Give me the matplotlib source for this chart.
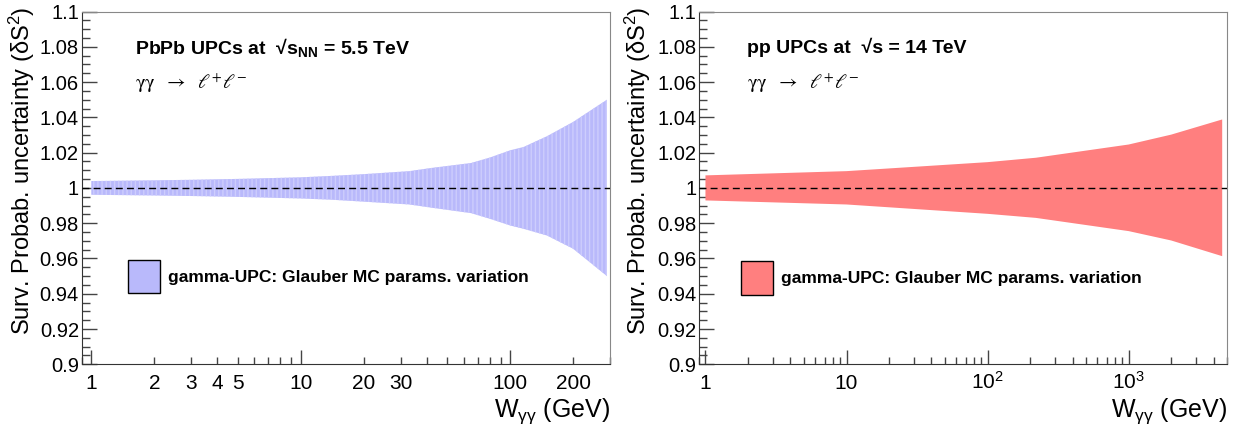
import matplotlib
matplotlib.use('Agg')
import matplotlib.pyplot as plt
from matplotlib.patches import Patch
from matplotlib.ticker import FixedLocator, FixedFormatter, LogLocator, NullFormatter, MultipleLocator, FormatStrFormatter, FuncFormatter

plt.rcParams['font.family'] = ['Liberation Sans', 'DejaVu Sans']
plt.rcParams['mathtext.fontset'] = 'custom'
plt.rcParams['mathtext.rm'] = 'Liberation Sans'
plt.rcParams['mathtext.bf'] = 'Liberation Sans:bold'
plt.rcParams['mathtext.it'] = 'Liberation Sans:italic'
plt.rcParams['hatch.linewidth'] = 1.0

# PbPb band (W in GeV, upper / lower edge)
w_pbpb = [1, 2, 3, 5, 10, 14, 20, 33, 42, 65, 80, 100, 116, 150, 200, 290]
up_pbpb = [1.0039, 1.0043, 1.0046, 1.0051, 1.0060, 1.0068, 1.0078, 1.0095, 1.0113,
           1.0141, 1.0172, 1.0213, 1.0232, 1.0293, 1.0374, 1.0500]
lo_pbpb = [0.9961, 0.9957, 0.9954, 0.9949, 0.9940, 0.9933, 0.9922, 0.9906, 0.9888,
           0.9857, 0.9825, 0.9787, 0.9768, 0.9730, 0.9655, 0.9500]

# pp band
w_pp = [1, 10, 100, 220, 1000, 2000, 4600]
up_pp = [1.0071, 1.0095, 1.0146, 1.0171, 1.0246, 1.0302, 1.0388]
lo_pp = [0.9929, 0.9906, 0.9853, 0.9830, 0.9755, 0.9702, 0.9613]

pbpb_ticks = [1, 2, 3, 4, 5, 10, 20, 30, 100, 200]
pp_ticks = [1, 10, 100, 1000]
pp_ticklabels = ['1', '10', '$10^{2}$', '$10^{3}$']

ylab = 'Surv. Probab. uncertainty (δS$^{2}$)'
xlab = 'W$_{\\mathrm{γγ}}$ (GeV)'
proc = r'$\mathrm{γγ}\ \ \rightarrow\ \ \ell^{+}\ell^{-}$'
leg_text = 'gamma-UPC: Glauber MC params. variation'

fig = plt.figure(figsize=(12.44, 4.33), dpi=100)
W, H = 1244, 433


def setup(ax, xlim):
    ax.set_xscale('log')
    ax.set_xlim(*xlim)
    ax.set_ylim(0.9, 1.1)
    ax.yaxis.set_major_locator(MultipleLocator(0.02))
    ax.yaxis.set_minor_locator(MultipleLocator(0.005))
    ax.yaxis.set_major_formatter(FormatStrFormatter('%g'))
    ax.tick_params(axis='y', which='major', direction='in', length=11, width=1,
                   labelsize=14.5, pad=2, color='#444444', right=False)
    ax.tick_params(axis='y', which='minor', direction='in', length=5.5, width=1,
                   color='#444444', right=False)
    ax.tick_params(axis='x', which='both', labelsize=15, pad=17.5, top=False)
    ax.tick_params(axis='x', which='major', direction='in', length=10, width=1, color='#444444')
    ax.tick_params(axis='x', which='minor', direction='in', length=5, width=1, color='#444444')
    for s in ['top', 'right']:
        ax.spines[s].set_color('#888888')
    for s in ['left', 'bottom']:
        ax.spines[s].set_color('#333333')
    ax.axhline(1.0, color='black', lw=1.0, dashes=(5, 3), zorder=3)


def baseline_labels(ax):
    for t in ax.xaxis.get_major_ticks() + ax.xaxis.get_minor_ticks():
        t.label1.set_verticalalignment('baseline')


# left panel: PbPb
ax1 = fig.add_axes([81.7 / W, 1 - 364.3 / H, 528.3 / W, 352.8 / H])
setup(ax1, (0.9, 300))
ax1.fill_between(w_pbpb, lo_pbpb, up_pbpb, facecolor='#b9b9fb', edgecolor='#cdcdfd',
                 hatch='||||', linewidth=0, zorder=2)
ax1.xaxis.set_major_locator(FixedLocator([1, 10, 100]))
ax1.xaxis.set_minor_locator(LogLocator(base=10, subs=range(2, 10)))
ax1.xaxis.set_major_formatter(FormatStrFormatter('%g'))
ax1.xaxis.set_minor_formatter(FuncFormatter(
    lambda v, p: '%g' % v if any(abs(v - t) < 1e-6 * t for t in pbpb_ticks) else ''))
ax1.text(0.1, 0.899, 'PbPb UPCs at  √$\\mathbf{s}_{\\mathbf{NN}}$ = 5.5 TeV', transform=ax1.transAxes,
         fontsize=14, fontweight='bold', va='center', ha='left')
ax1.text(0.1, 0.797, proc, transform=ax1.transAxes,
         fontsize=14.5, va='center', ha='left', math_fontfamily='stix')
h1 = Patch(facecolor='#b9b9fb', edgecolor='black', linewidth=1)
ax1.legend([h1], [leg_text], loc='center left', bbox_to_anchor=(0.088, 0.249), frameon=False,
           borderpad=0, borderaxespad=0, handlelength=1.85, handleheight=2.6,
           handletextpad=0.45, prop={'weight': 'bold', 'size': 12.5})
fig.text(22 / W, 1 - 7 / H, ylab, rotation=90, ha='center', va='top', fontsize=17)
fig.text(610 / W, 1 - 411 / H, xlab, ha='right', va='center', fontsize=18)

# right panel: pp
ax2 = fig.add_axes([699 / W, 1 - 364.3 / H, 528.3 / W, 352.8 / H])
setup(ax2, (0.9, 5000))
ax2.fill_between(w_pp, lo_pp, up_pp, facecolor='#ff7f7f', linewidth=0, zorder=2)
ax2.xaxis.set_major_locator(FixedLocator(pp_ticks))
ax2.xaxis.set_major_formatter(FixedFormatter(pp_ticklabels))
ax2.xaxis.set_minor_locator(LogLocator(base=10, subs=range(2, 10)))
ax2.xaxis.set_minor_formatter(NullFormatter())
ax2.text(0.09, 0.899, 'pp UPCs at  √s = 14 TeV', transform=ax2.transAxes,
         fontsize=14, fontweight='bold', va='center', ha='left')
ax2.text(0.09, 0.797, proc, transform=ax2.transAxes,
         fontsize=14.5, va='center', ha='left', math_fontfamily='stix')
h2 = Patch(facecolor='#ff7f7f', edgecolor='black', linewidth=1)
ax2.legend([h2], [leg_text], loc='center left', bbox_to_anchor=(0.0795, 0.2446), frameon=False,
           borderpad=0, borderaxespad=0, handlelength=1.85, handleheight=2.6,
           handletextpad=0.45, prop={'weight': 'bold', 'size': 12.5})
fig.text(638 / W, 1 - 7 / H, ylab, rotation=90, ha='center', va='top', fontsize=17)
fig.text(1227 / W, 1 - 411 / H, xlab, ha='right', va='center', fontsize=18)

baseline_labels(ax1)
baseline_labels(ax2)

fig.savefig('out.png', dpi=100)
